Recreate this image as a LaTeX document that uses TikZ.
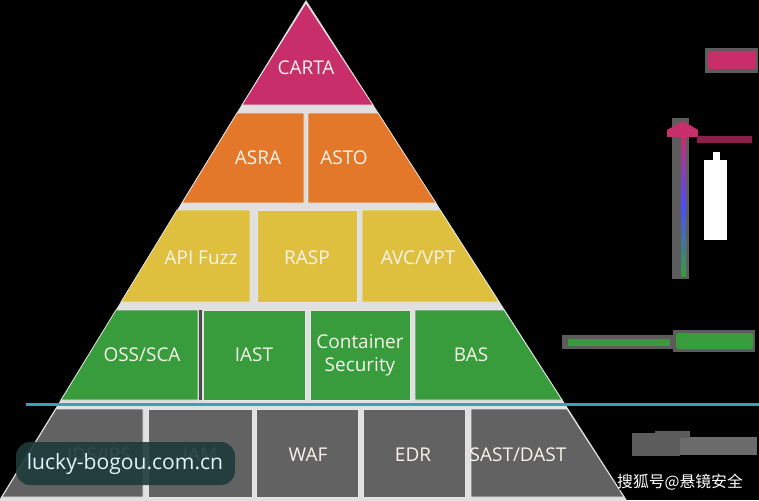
\documentclass[tikz,border=0pt]{standalone}
\usepackage{fontspec}
\setmainfont{Open Sans}
\newfontfamily\cjk{Noto Sans CJK SC}
\usetikzlibrary{positioning}

\definecolor{cartared}{RGB}{200,46,106}
\definecolor{tierorange}{RGB}{228,120,42}
\definecolor{tieryellow}{RGB}{222,192,62}
\definecolor{tiergreen}{RGB}{56,156,60}
\definecolor{tiergray}{RGB}{98,98,98}
\definecolor{linecyan}{RGB}{52,163,190}
\definecolor{labeltext}{RGB}{248,244,236}
\definecolor{halo}{RGB}{92,92,92}
\definecolor{wmbox}{RGB}{30,58,58}

\begin{document}
\begin{tikzpicture}[
    x=0.02cm, y=-0.02cm,
    cell/.style={draw=white!90!black, line width=0.4pt},
    lbl/.style={text=labeltext, font=\fontsize{10.8}{13}\selectfont, align=center, inner sep=0pt},
    blob/.style={rounded corners=1pt}
]
    \useasboundingbox (0,0) rectangle (759,500);
    \fill[black] (0,0) rectangle (759,500);

    % white backing of the pyramid
    \fill[white!88!black] (306,0) -- (-2,502) -- (628,502) -- cycle;

    % top
    \fill[cartared, cell] (306,3) -- (242,105) -- (373,105) -- cycle;
    % second tier
    \fill[tierorange, cell] (237,113) -- (304,113) -- (304,203) -- (182,203) -- cycle;
    \fill[tierorange, cell] (308,113) -- (378,113) -- (436,203) -- (308,203) -- cycle;
    % third tier
    \fill[tieryellow, cell] (177,210) -- (250,210) -- (250,302) -- (121,302) -- cycle;
    \fill[tieryellow, cell] (257,210) -- (357,210) -- (357,302) -- (257,302) -- cycle;
    \fill[tieryellow, cell] (362,210) -- (440,210) -- (499,302) -- (362,302) -- cycle;
    % fourth tier
    \fill[tiergreen, cell] (116,310) -- (198,310) -- (198,400) -- (61,400) -- cycle;
    \fill[black!70] (199,310) rectangle (202,400);
    \fill[tiergreen, cell] (203,310) -- (305,310) -- (305,400) -- (203,400) -- cycle;
    \fill[tiergreen, cell] (310,310) -- (410,310) -- (410,400) -- (310,400) -- cycle;
    \fill[tiergreen, cell] (415,310) -- (504,310) -- (562,400) -- (415,400) -- cycle;
    % bottom tier
    \fill[tiergray, cell] (56,409) -- (143,409) -- (143,497) -- (2,497) -- cycle;
    \fill[tiergray, cell] (148,409) -- (252,409) -- (252,497) -- (148,497) -- cycle;
    \fill[tiergray, cell] (256,409) -- (358,409) -- (358,497) -- (256,497) -- cycle;
    \fill[tiergray, cell] (363,409) -- (465,409) -- (465,497) -- (363,497) -- cycle;
    \fill[tiergray, cell] (471,409) -- (567,409) -- (624,497) -- (471,497) -- cycle;

    % cyan divider
    \fill[linecyan] (26,402.5) rectangle (759,406);

    \node[lbl] (carta) at (306,68) {CARTA};
    \node[lbl] (asra) at (258,158) {ASRA};
    \node[lbl] (asto) at (344,158) {ASTO};
    \node[lbl] (fuzz) at (201,258) {API Fuzz};
    \node[lbl] (rasp) at (307,258) {RASP};
    \node[lbl] (avc) at (418,258) {AVC/VPT};
    \node[lbl] (oss) at (142,355) {OSS/SCA};
    \node[lbl] (iast) at (254,355) {IAST};
    \node[lbl] (cont) at (360,355) {Container\\Security};
    \node[lbl] (bas) at (471,355) {BAS};
    \node[lbl] (ids) at (99,455) {IDS/IPS};
    \node[lbl] (iam) at (200,455) {IAM};
    \node[lbl] (waf) at (308,455) {WAF};
    \node[lbl] (edr) at (413,455) {EDR};
    \node[lbl] (sast) at (518,455) {SAST/DAST};

    % right hand scale
    \fill[halo] (705,48) rectangle (758,73);
    \fill[cartared, blob] (708,51) rectangle (756,69);

    \coordinate (arrowtop) at (683,121);
    \coordinate (arrowbot) at (683,276);
    \fill[halo] (672,118) rectangle (689,279);
    \shade[top color=cartared, bottom color=tiergreen, middle color=blue!70] (681,136) rectangle (686,276);
    \fill[cartared] (arrowtop) -- (698,130) -- (698,137) -- (667,137) -- (667,130) -- cycle;
    \fill[cartared!70!black] (697,136) rectangle (752,143);
    \fill[white] (704,160) rectangle (727,240);
    \fill[white] (713,152) rectangle (720,160);

    \fill[halo] (562,335) rectangle (676,349);
    \fill[tiergreen] (568,339) rectangle (670,346);
    \fill[halo] (673,330) rectangle (755,352);
    \fill[tiergreen, blob] (676,333) rectangle (753,349);

    \fill[halo] (632,433) rectangle (680,456);
    \fill[halo!90!white] (680,437) rectangle (757,455);
    \fill[halo] (655,431) rectangle (690,438);

    % watermarks
    \fill[wmbox, opacity=0.9, rounded corners=8pt] (16,442) rectangle (235,485);
    \node[text=white!88!cyan, font=\fontsize{12}{14}\selectfont, inner sep=0pt] (wm) at (125,464) {lucky-bogou.com.cn};
    \node[text=black, font=\cjk\fontsize{9}{11}\selectfont, inner sep=0pt] at (681,484) {搜狐号@悬镜安全};
    \node[text=white, font=\cjk\fontsize{9}{11}\selectfont, inner sep=0pt] (sohu) at (680,482.5) {搜狐号@悬镜安全};
\end{tikzpicture}
\end{document}
